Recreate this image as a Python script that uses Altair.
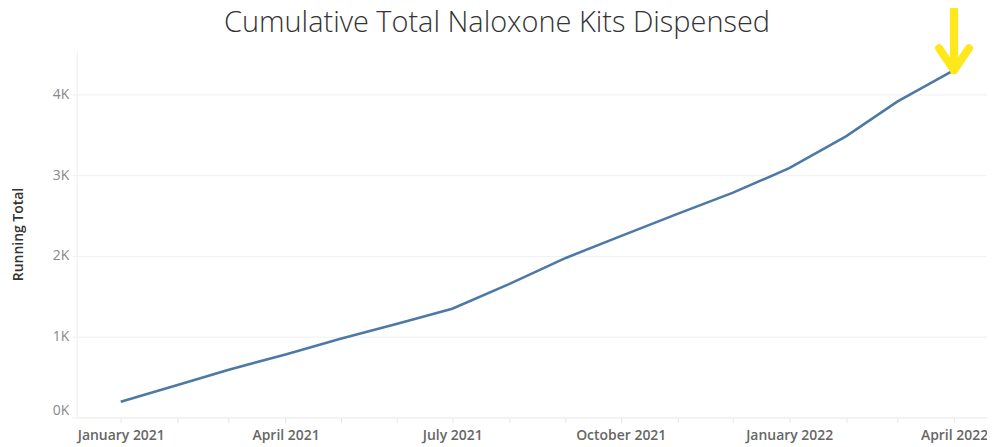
import altair as alt
import pandas as pd

# Data
months = ["2021-01-01", "2021-02-01", "2021-03-01", "2021-04-01", "2021-05-01",
          "2021-06-01", "2021-07-01", "2021-08-01", "2021-09-01", "2021-10-01",
          "2021-11-01", "2021-12-01", "2022-01-01", "2022-02-01", "2022-03-01",
          "2022-04-01"]
running_total = [195, 400, 590, 780, 975, 1160, 1345, 1650, 1975, 2245,
                 2520, 2780, 3086, 3480, 3910, 4300]
y_ticks = [0, 1000, 2000, 3000, 4000]

df = pd.DataFrame({"date": months, "value": running_total})
ann = df.tail(1)

tick_values = [alt.DateTime(year=int(m[:4]), month=int(m[5:7]), date=1, utc=True) for m in months]

x_enc = alt.X(
    "date:T",
    scale=alt.Scale(type="utc",
                    domain=[alt.DateTime(year=2020, month=12, date=8, utc=True),
                            alt.DateTime(year=2022, month=4, date=19, utc=True)]),
    axis=alt.Axis(
        title=None,
        values=tick_values,
        labelExpr="utcmonth(datum.value) % 3 == 0 ? utcFormat(datum.value, '%B %Y') : ''",
        labelFont="Open Sans", labelFontSize=14, labelFontWeight=600, labelColor="#666666",
        labelPadding=6, labelFlush=False,
        grid=False, tickSize=5, tickColor="#e6e6e6",
        domainColor="#eeeeee",
    ),
)
y_enc = alt.Y(
    "value:Q",
    scale=alt.Scale(domain=[0, 4543], nice=False),
    axis=alt.Axis(
        title="Running Total",
        values=y_ticks,
        labelExpr="datum.value / 1000 + 'K'",
        labelFont="Open Sans", labelFontSize=14, labelColor="#888888",
        labelPadding=3, labelFlush=True,
        titleFont="Open Sans", titleFontSize=14, titleFontWeight=600, titleColor="#333333",
        titlePadding=27,
        grid=True, gridColor="#f0f0f0", tickSize=5, tickColor="#f0f0f0",
        domainColor="#eeeeee",
    ),
)

line = alt.Chart(df).mark_line(color="#4e79a7", strokeWidth=2.6).encode(x=x_enc, y=y_enc)

shaft = alt.Chart(ann).mark_rule(
    color="#FFE81A", strokeWidth=8, strokeCap="round", clip=False
).encode(x="date:T", y="value:Q", y2=alt.value(-46))

head = alt.Chart(ann).mark_point(
    shape="M-1,-1.47L0,0L1,-1.47", filled=False, size=900, color="#FFE81A",
    strokeWidth=8, strokeCap="round", strokeJoin="round", opacity=1, clip=False
).encode(x="date:T", y="value:Q")

chart = alt.layer(line, shaft, head).properties(
    width=913, height=368,
    autosize=alt.AutoSizeParams(type="none"),
    padding={"left": 69, "top": 42, "right": 0, "bottom": 29},
    title=alt.TitleParams(
        "Cumulative Total Naloxone Kits Dispensed",
        font="Open Sans", fontSize=29, fontWeight=300, color="#333333",
        baseline="alphabetic", dx=-35, offset=0, dy=60,
    ),
).configure_view(stroke=None)

chart.save("out.html", embed_options={"renderer": "svg", "actions": False})
